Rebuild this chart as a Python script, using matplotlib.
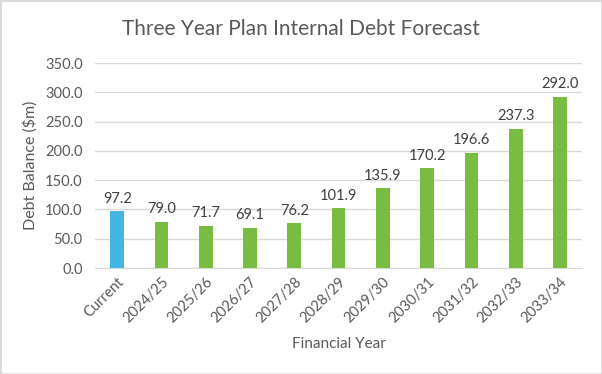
import matplotlib.pyplot as plt
from matplotlib.patches import Rectangle
import numpy as np

# donnees
years = ["Current", "2024/25", "2025/26", "2026/27", "2027/28", "2028/29",
         "2029/30", "2030/31", "2031/32", "2032/33", "2033/34"]
debt = [97.2, 79.0, 71.7, 69.1, 76.2, 101.9, 135.9, 170.2, 196.6, 237.3, 292.0]
yticks = [0, 50, 100, 150, 200, 250, 300, 350]

plt.rcParams['font.family'] = ['Lato', 'DejaVu Sans']

fig = plt.figure(figsize=(6.02, 3.74), dpi=100)
ax = fig.add_axes([0.158, 0.2834, 0.809, 0.548])

x = np.arange(len(years))
colors = ["#45B5E3"] + ["#79BC42"] * (len(years) - 1)
ax.bar(x, debt, width=0.31, color=colors, zorder=3)

for xi, v in zip(x, debt):
    ax.annotate(f"{v:.1f}", (xi, v), xytext=(0, 4), textcoords="offset points",
                ha="center", va="bottom", fontsize=10.5, color="#404040")

ax.set_xlim(-0.5, len(years) - 0.5)
ax.set_ylim(0, 350)
ax.set_yticks(yticks)
ax.set_yticklabels([f"{t:.1f}" for t in yticks])
ax.set_xticks(x)
ax.set_xticklabels(years, rotation=45, ha="right", rotation_mode="anchor")
ax.tick_params(axis="both", length=0, labelsize=10.5, labelcolor="#595959")
ax.tick_params(axis="x", pad=5)
ax.tick_params(axis="y", pad=9)
ax.grid(axis="y", color="#D9D9D9", lw=1, zorder=0)
for s in ["top", "right", "left"]:
    ax.spines[s].set_visible(False)
ax.spines["bottom"].set_color("#D9D9D9")

ax.set_ylabel("Debt Balance ($m)", fontsize=11.5, color="#595959", labelpad=5)
ax.set_xlabel("Financial Year", fontsize=11, color="#595959", labelpad=8)
fig.text(0.5, 0.922, "Three Year Plan Internal Debt Forecast", ha="center", va="center",
         fontsize=15, color="#595959")

fig.patches.append(Rectangle((0, 0), 1, 1, transform=fig.transFigure, fill=False,
                             edgecolor="#D9D9D9", lw=2))

fig.savefig("out.png", dpi=100)
